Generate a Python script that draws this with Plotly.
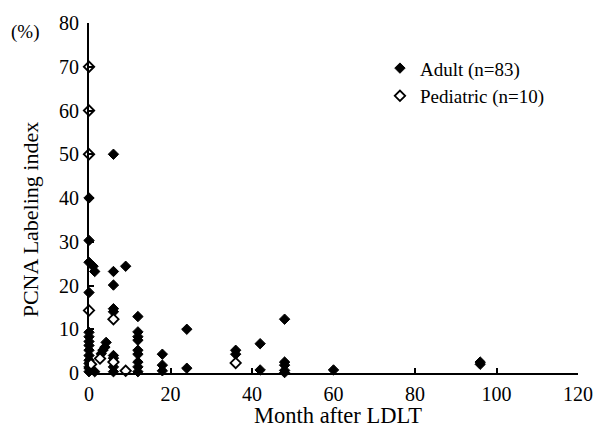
import plotly.graph_objects as go

# PCNA labeling index vs. months after living-donor liver transplantation
adult_month = [0, 0, 0, 0, 0, 0, 0, 0, 0, 0, 0, 0, 0, 0, 0,
               1, 1.4, 1.4,
               4.2, 3.9, 3.4, 3.0,
               6, 6, 6, 6, 6, 6, 6, 6, 6,
               9,
               12, 12, 12, 12, 12, 12, 12, 12, 12,
               18, 18, 18,
               24, 24,
               36, 36,
               42, 42,
               48, 48, 48, 48, 48,
               60,
               96, 96]
adult_pcna = [40, 30.3, 25.3, 18.4, 9.3, 8.3, 7.2, 6.3, 5.2, 4.0, 2.9, 2.2, 1.1, 0.3, 1.4,
              24.4, 23.2, 0.3,
              7.0, 5.9, 5.2, 4.4,
              50, 23.2, 20.1, 14.7, 14.0, 4.0, 3.4, 1.4, 0.3,
              24.4,
              12.9, 9.4, 8.3, 7.5, 5.2, 4.3, 2.5, 1.4, 0.3,
              4.3, 1.8, 0.5,
              10.0, 1.1,
              5.2, 4.3,
              6.7, 0.7,
              12.3, 2.5, 1.8, 0.6, 0.1,
              0.7,
              2.5, 2.0]

ped_month = [0, 0, 0, 0, 6, 2.7, 36, 9, 0.5, 6]
ped_pcna = [70, 60, 50, 14.3, 12.3, 3.3, 2.3, 0.5, 2.0, 2.5]

x_ticks = [0, 20, 40, 60, 80, 100, 120]
y_ticks = [0, 10, 20, 30, 40, 50, 60, 70, 80]

SERIF = "Liberation Serif"

fig = go.Figure()
fig.add_trace(go.Scatter(
    x=adult_month, y=adult_pcna, mode="markers", name="Adult (n=83)",
    marker=dict(symbol="diamond", size=8, color="black",
                line=dict(color="black", width=1)),
    cliponaxis=False,
))
fig.add_trace(go.Scatter(
    x=ped_month, y=ped_pcna, mode="markers", name="Pediatric (n=10)",
    marker=dict(symbol="diamond", size=8, color="white",
                line=dict(color="black", width=1.8)),
    cliponaxis=False,
))

axis_common = dict(
    showline=True, linecolor="black", linewidth=2,
    ticks="inside", ticklen=5, tickwidth=1.5, tickcolor="black",
    showgrid=False, zeroline=False,
    tickfont=dict(family=SERIF, size=20, color="black"),
)

fig.update_layout(
    width=605, height=430,
    margin=dict(l=89, r=18, t=16, b=57),
    paper_bgcolor="white", plot_bgcolor="white",
    font=dict(family=SERIF, color="black"),
    xaxis=dict(range=[0, 120], tickvals=x_ticks, ticklabelstandoff=2,
               **axis_common),
    yaxis=dict(range=[0, 80], tickvals=y_ticks, ticklabelstandoff=4,
               **axis_common),
    legend=dict(x=0.595, y=0.925, xanchor="left", yanchor="top",
                font=dict(family=SERIF, size=19, color="black"),
                bgcolor="rgba(0,0,0,0)", itemwidth=30, tracegroupgap=0),
    showlegend=True,
)

# axis titles and the unit label
fig.add_annotation(text="Month after LDLT", xref="paper", yref="paper",
                   x=0.51, y=-0.12, xanchor="center", yanchor="middle",
                   showarrow=False, font=dict(family=SERIF, size=22.5))
fig.add_annotation(text="PCNA Labeling index", xref="paper", yref="paper",
                   x=-0.12, y=0.44, xanchor="center", yanchor="middle",
                   textangle=-90, showarrow=False,
                   font=dict(family=SERIF, size=22))
fig.add_annotation(text="(%)", xref="paper", yref="paper",
                   x=-0.13, y=0.975, xanchor="center", yanchor="middle",
                   showarrow=False, font=dict(family=SERIF, size=19))

fig.write_html("out.html")
